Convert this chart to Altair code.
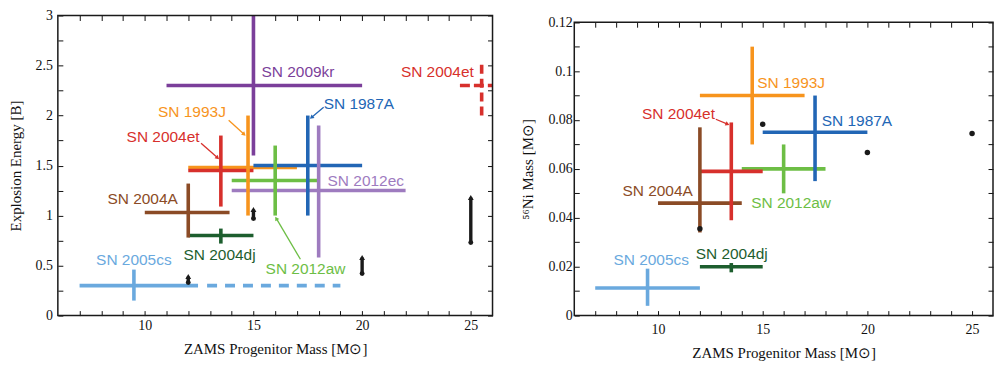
import math
import altair as alt
import pandas as pd

# ---------------- shared values ----------------
NAMES = ["SN 2009kr", "SN 2004et", "SN 1993J", "SN 1987A", "SN 2012aw",
         "SN 2012ec", "SN 2004A", "SN 2004dj", "SN 2005cs"]
COLORS = ["#7B3F9A", "#D7302C", "#F7941D", "#2266B5", "#6DBE45",
          "#9E7BBF", "#8B4B26", "#1D5E2E", "#6AA9DE"]
X_TICKS = list(range(7, 26))
X_TITLE = "ZAMS Progenitor Mass [M\u2299]"

# ---------------- left panel: explosion energy [B] ----------------
E_SN = ["SN 2005cs", "SN 2004dj", "SN 2004A", "SN 2012ec", "SN 2012aw",
        "SN 1993J", "SN 2004et", "SN 1987A", "SN 2009kr"]
E_MASS = [9.5, 13.5, 12.0, 18.0, 16.0, 14.75, 13.5, 17.5, 15.0]
E_MASS_LO = [7.0, 12.0, 10.0, 14.0, 14.0, 12.0, 12.0, 15.0, 11.0]
E_MASS_HI = [12.45, 15.0, 13.9, 22.0, 18.0, 17.0, 15.0, 20.0, 20.0]
E_VAL = [0.30, 0.80, 1.03, 1.25, 1.35, 1.48, 1.45, 1.50, 2.30]
E_LO = [0.15, 0.72, 0.78, 0.58, 1.00, 1.00, 1.09, 1.00, 1.60]
E_HI = [0.46, 0.87, 1.32, 1.90, 1.70, 2.00, 1.80, 2.00, 3.00]

# dashed (uncertain) estimates
CS_DASH_X = [12.5, 19.0]
CS_DASH_E = 0.30
ET_DASH_X = [24.5, 26.0]
ET_DASH_E = 2.30
ET_DASH_M = 25.5
ET_DASH_EV = [2.0, 2.55]

# lower limits (black arrows)
LIM_M = [12, 15, 20, 25]
LIM_LO = [0.33, 0.97, 0.42, 0.73]
LIM_HI = [0.39, 1.06, 0.58, 1.18]

# labels
E_LAB_L = ["SN 2009kr", "SN 1987A", "SN 2012ec", "SN 2004dj", "SN 2012aw", "SN 2005cs"]
E_LAB_L_M = [15.37, 18.23, 18.41, 11.78, 15.56, 7.76]
E_LAB_L_E = [2.44, 2.12, 1.344, 0.605, 0.4645, 0.559]
E_LAB_R = ["SN 2004et", "SN 1993J", "SN 2004et", "SN 2004A"]
E_LAB_R_M = [25.14, 13.73, 12.52, 11.52]
E_LAB_R_E = [2.434, 2.04, 1.789, 1.161]

# pointer arrows
E_PTR_SN = ["SN 1993J", "SN 2004et", "SN 1987A", "SN 2012aw"]
E_PTR_M1 = [13.86, 12.59, 18.23, 17.16]
E_PTR_E1 = [1.953, 1.724, 2.084, 0.563]
E_PTR_M2 = [14.57, 13.35, 17.67, 16.05]
E_PTR_E2 = [1.812, 1.577, 1.98, 0.972]

# ---------------- right panel: 56Ni mass ----------------
N_SN = ["SN 2005cs", "SN 2004dj", "SN 2004A", "SN 2012aw", "SN 2004et",
        "SN 1987A", "SN 1993J"]
N_MASS = [9.5, 13.5, 12.0, 16.0, 13.5, 17.5, 14.5]
N_MASS_LO = [7.0, 12.0, 10.0, 14.0, 12.0, 15.0, 12.0]
N_MASS_HI = [12.0, 15.0, 14.0, 18.0, 15.0, 20.0, 17.0]
N_VAL = [0.0113, 0.020, 0.046, 0.060, 0.059, 0.075, 0.090]
N_LO = [0.004, 0.0177, 0.034, 0.050, 0.039, 0.055, 0.070]
N_HI = [0.0192, 0.0215, 0.077, 0.070, 0.079, 0.090, 0.110]

DOT_M = [12, 15, 20, 25]
DOT_N = [0.0355, 0.0783, 0.0667, 0.0745]

N_LAB_L = ["SN 1993J", "SN 1987A", "SN 2012aw", "SN 2004dj", "SN 2005cs"]
N_LAB_L_M = [14.74, 17.82, 14.45, 11.80, 7.87]
N_LAB_L_N = [0.0951, 0.0796, 0.0459, 0.0253, 0.0226]
N_LAB_R = ["SN 2004et", "SN 2004A"]
N_LAB_R_M = [12.72, 11.66]
N_LAB_R_N = [0.0824, 0.0511]

N_PTR_SN = ["SN 2004et"]
N_PTR_M1 = [12.76]
N_PTR_N1 = [0.0803]
N_PTR_M2 = [13.32]
N_PTR_N2 = [0.0783]

E_TICKS = [0.25 * i for i in range(13)]
N_TICKS = [round(0.01 * i, 2) for i in range(13)]

# ---------------- layout / style ----------------
W_L, W_R, H = 436, 420, 301
R_TOP = 6.7
TICK = 5
LW = 3.6
SANS = "Liberation Sans"
SERIF = "Liberation Serif"
color_scale = alt.Scale(domain=NAMES, range=COLORS)
col = alt.Color("sn:N", scale=color_scale, legend=None)


def angles(m1, v1, m2, v2, sx, sy):
    out = []
    for a, b, c, d in zip(m1, v1, m2, v2):
        dxp = (c - a) * sx
        dyp = -(d - b) * sy
        out.append(math.degrees(math.atan2(dxp, -dyp)) % 360)
    return out


def build_panel(width, ymax, y_range, sn, mass, mlo, mhi, val, vlo, vhi,
                lab_l, lab_r, ptr, extra, y_ticks, y_expr, y_title,
                ylabpad, xlabpad, ytitlepad, top_px):
    xs = alt.Scale(domain=[6, 26], nice=False, zero=False)
    ys = alt.Scale(domain=[0, ymax], range=y_range, nice=False, zero=False)

    def X(f):
        return alt.X(f, type="quantitative", scale=xs, axis=None)

    def Y(f):
        return alt.Y(f, type="quantitative", scale=ys, axis=None)

    err = pd.DataFrame({"sn": sn, "m": mass, "mlo": mlo, "mhi": mhi,
                        "v": val, "vlo": vlo, "vhi": vhi})
    horiz = alt.Chart(err).mark_rule(strokeWidth=LW).encode(
        x=X("mlo"), x2="mhi", y=Y("v"), color=col)
    vert = alt.Chart(err).mark_rule(strokeWidth=LW).encode(
        x=X("m"), y=Y("vlo"), y2="vhi", color=col)

    layers = [horiz, vert] + extra(X, Y)

    dl = pd.DataFrame({"sn": lab_l[0], "m": lab_l[1], "v": lab_l[2]})
    dr = pd.DataFrame({"sn": lab_r[0], "m": lab_r[1], "v": lab_r[2]})
    layers.append(alt.Chart(dl).mark_text(align="left", baseline="middle",
                                          font=SANS, fontSize=15.5).encode(
        x=X("m"), y=Y("v"), text="sn:N", color=col))
    layers.append(alt.Chart(dr).mark_text(align="right", baseline="middle",
                                          font=SANS, fontSize=15.5).encode(
        x=X("m"), y=Y("v"), text="sn:N", color=col))

    sx = width / 20.0
    sy = abs(y_range[0] - y_range[1]) / ymax
    dp = pd.DataFrame({"sn": ptr[0], "m1": ptr[1], "v1": ptr[2],
                       "m2": ptr[3], "v2": ptr[4],
                       "ang": angles(ptr[1], ptr[2], ptr[3], ptr[4], sx, sy)})
    layers.append(alt.Chart(dp).mark_rule(strokeWidth=1.3).encode(
        x=X("m1"), y=Y("v1"), x2="m2", y2="v2", color=col))
    layers.append(alt.Chart(dp).mark_point(shape="triangle-up", filled=True,
                                           size=22, opacity=1).encode(
        x=X("m2"), y=Y("v2"), angle=alt.Angle("ang:Q", scale=None), color=col))

    frame = pd.DataFrame({"x": [6.0], "x2": [26.0], "y": [0.0], "y2": [ymax]})
    layers.append(alt.Chart(frame).mark_rect(fillOpacity=0, stroke="#1a1a1a",
                                             strokeWidth=1.5).encode(
        x=X("x"), x2="x2", y=Y("y"), y2="y2"))

    anchor = pd.DataFrame({"x": [6.0], "y": [0.0]})
    ax1 = alt.Chart(anchor).mark_point(opacity=0, size=1).encode(
        x=alt.X("x:Q", scale=xs, axis=alt.Axis(
            orient="bottom", values=X_TICKS,
            labelExpr="datum.value % 5 == 0 ? datum.label : ''",
            tickSize=TICK, offset=-TICK, domain=False, grid=False,
            labelPadding=xlabpad, labelFlush=False, labelOverlap=False,
            title=X_TITLE, titlePadding=9)),
        y=alt.Y("y:Q", scale=ys, axis=alt.Axis(
            orient="left", values=y_ticks, labelExpr=y_expr,
            tickSize=TICK, offset=-TICK, domain=False, grid=False,
            labelPadding=ylabpad, labelOverlap=False,
            title=y_title, titlePadding=ytitlepad)))
    ax2 = alt.Chart(anchor).mark_point(opacity=0, size=1).encode(
        x=alt.X("x:Q", scale=xs, axis=alt.Axis(
            orient="top", values=X_TICKS, labels=False,
            tickSize=TICK, offset=-(top_px + TICK), domain=False, grid=False,
            title=None)),
        y=alt.Y("y:Q", scale=ys, axis=alt.Axis(
            orient="right", values=y_ticks, labels=False,
            tickSize=TICK, offset=-TICK, domain=False, grid=False,
            title=None)))
    layers += [ax1, ax2]

    return alt.layer(*layers).resolve_axis(x="independent", y="independent") \
        .properties(width=width, height=H)


def left_extra(X, Y):
    cs = pd.DataFrame({"sn": ["SN 2005cs"], "a": [CS_DASH_X[0]],
                       "b": [CS_DASH_X[1]], "v": [CS_DASH_E]})
    eth = pd.DataFrame({"sn": ["SN 2004et"], "a": [ET_DASH_X[0]],
                        "b": [ET_DASH_X[1]], "v": [ET_DASH_E]})
    etv = pd.DataFrame({"sn": ["SN 2004et"], "m": [ET_DASH_M],
                        "a": [ET_DASH_EV[0]], "b": [ET_DASH_EV[1]]})
    lim = pd.DataFrame({"m": LIM_M, "lo": LIM_LO, "hi": LIM_HI})
    return [
        alt.Chart(cs).mark_rule(strokeWidth=LW, strokeDash=[10, 8],
                                strokeDashOffset=10).encode(
            x=X("a"), x2="b", y=Y("v"), color=col),
        alt.Chart(eth).mark_rule(strokeWidth=LW, strokeDash=[10, 4]).encode(
            x=X("a"), x2="b", y=Y("v"), color=col),
        alt.Chart(etv).mark_rule(strokeWidth=LW, strokeDash=[9, 5]).encode(
            x=X("m"), y=Y("a"), y2="b", color=col),
        alt.Chart(lim).mark_rule(strokeWidth=3.4, color="#1a1a1a").encode(
            x=X("m"), y=Y("lo"), y2="hi"),
        alt.Chart(lim).mark_point(shape="circle", filled=True, size=24,
                                  color="#1a1a1a", opacity=1).encode(
            x=X("m"), y=Y("lo")),
        alt.Chart(lim).mark_point(shape="triangle-up", filled=True, size=34,
                                  color="#1a1a1a", opacity=1).encode(
            x=X("m"), y=Y("hi")),
    ]


def right_extra(X, Y):
    dots = pd.DataFrame({"m": DOT_M, "v": DOT_N})
    return [alt.Chart(dots).mark_point(shape="circle", filled=True, size=30,
                                       color="#1a1a1a", opacity=1).encode(
        x=X("m"), y=Y("v"))]


left = build_panel(
    W_L, 3.0, [H, 0], E_SN, E_MASS, E_MASS_LO, E_MASS_HI, E_VAL, E_LO, E_HI,
    (E_LAB_L, E_LAB_L_M, E_LAB_L_E), (E_LAB_R, E_LAB_R_M, E_LAB_R_E),
    (E_PTR_SN, E_PTR_M1, E_PTR_E1, E_PTR_M2, E_PTR_E2), left_extra,
    E_TICKS, "round(datum.value * 4) % 2 == 0 ? toString(datum.value) : ''",
    "Explosion Energy [B]", 5.5, 3, 11.5, 0)

right = build_panel(
    W_R, 0.12, [H, R_TOP], N_SN, N_MASS, N_MASS_LO, N_MASS_HI, N_VAL, N_LO, N_HI,
    (N_LAB_L, N_LAB_L_M, N_LAB_L_N), (N_LAB_R, N_LAB_R_M, N_LAB_R_N),
    (N_PTR_SN, N_PTR_M1, N_PTR_N1, N_PTR_M2, N_PTR_N2), right_extra,
    N_TICKS, "round(datum.value * 100) % 2 == 0 ? toString(datum.value) : ''",
    "\u2075\u2076Ni Mass [M\u2299]", 2, 7, 12, R_TOP)

chart = alt.hconcat(left, right, spacing=26).properties(padding=0) \
    .configure_view(stroke=None) \
    .configure_axis(labelFont=SERIF, labelFontSize=14, labelColor="#111111",
                    titleFont=SERIF, titleFontSize=15, titleFontWeight="normal",
                    titleColor="#111111", tickColor="#111111", tickWidth=1)

chart.save("out.html", embed_options={"renderer": "svg", "actions": False})
